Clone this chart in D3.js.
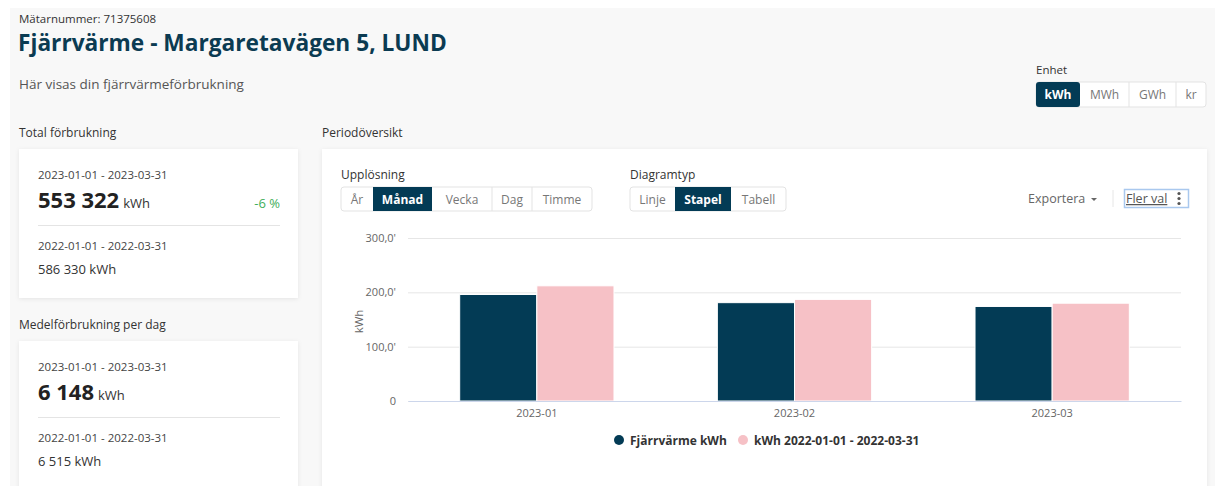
<!DOCTYPE html>
<html>
<head>
<meta charset="utf-8">
<script src="https://cdn.jsdelivr.net/npm/d3@7"></script>
<style>
  html, body { margin: 0; padding: 0; background: #fff; }
  svg { display: block; font-family: "Open Sans", "DejaVu Sans", sans-serif; }
</style>
</head>
<body>
<svg id="page" width="1215" height="486"></svg>
<script>
// chart data
const months = ['2023-01', '2023-02', '2023-03'];
const seriesNames = ['Fjärrvärme kWh', 'kWh 2022-01-01 - 2022-03-31'];
const current = [196000, 181000, 174000];
const previous = [212000, 187000, 180000];
const yTicks = [0, 100000, 200000, 300000];

// summary cards
const units = ['kWh', 'MWh', 'GWh', 'kr'];
const resolutions = ['År', 'Månad', 'Vecka', 'Dag', 'Timme'];
const chartTypes = ['Linje', 'Stapel', 'Tabell'];

const navy = '#033b55';
const pink = '#f6c1c6';

const svg = d3.select('#page');

const defs = svg.append('defs');
const shadow = defs.append('filter').attr('id', 'sh').attr('x', '-5%').attr('y', '-5%').attr('width', '110%').attr('height', '115%');
shadow.append('feDropShadow').attr('dx', 0).attr('dy', 1).attr('stdDeviation', 2).attr('flood-color', '#000').attr('flood-opacity', 0.08);

// background panel
svg.append('rect').attr('x', 10).attr('y', 8).attr('width', 1205).attr('height', 478).attr('fill', '#f8f8f8');

function text(x, y, s, opts = {}) {
    return svg.append('text')
        .attr('x', x).attr('y', y)
        .attr('font-size', opts.size || 12)
        .attr('font-weight', opts.weight || 400)
        .attr('fill', opts.color || '#333')
        .attr('text-anchor', opts.anchor || 'start')
        .text(s);
}

// header
text(19, 23, 'Mätarnummer: 71375608', { size: 11.5, color: '#333' });
text(18, 51, 'Fjärrvärme - Margaretavägen 5, LUND', { size: 22.7, weight: 700, color: '#0b3b52' });
text(19, 89, 'Här visas din fjärrvärmeförbrukning', { size: 13.5, color: '#555' });

// unit buttons
text(1036, 74, 'Enhet', { size: 11.5, color: '#333' });
function buttonGroup(x0, y0, h, labels, widths, active) {
    const g = svg.append('g').attr('transform', `translate(${x0},${y0})`);
    const xs = d3.cumsum([0, ...widths]);
    const total = xs[xs.length - 1];
    g.append('rect').attr('width', total).attr('height', h).attr('rx', 3)
        .attr('fill', '#fff').attr('stroke', '#e3e3e3');
    labels.forEach((l, i) => {
        if (i === active) {
            g.append('rect').attr('x', xs[i]).attr('width', widths[i]).attr('height', h)
                .attr('fill', navy).attr('rx', i === 0 ? 3 : 0);
        } else if (i > 0 && i - 1 !== active) {
            g.append('line').attr('x1', xs[i]).attr('x2', xs[i]).attr('y1', 0).attr('y2', h).attr('stroke', '#e3e3e3');
        }
        g.append('text').attr('x', xs[i] + widths[i] / 2).attr('y', h / 2 + 4.5)
            .attr('text-anchor', 'middle').attr('font-size', 12)
            .attr('font-weight', i === active ? 700 : 400)
            .attr('fill', i === active ? '#fff' : '#777').text(l);
    });
}
buttonGroup(1036, 82, 25, units, [44, 49, 47, 30], 0);

// left cards
text(19, 137, 'Total förbrukning', { size: 12 });
text(19, 329, 'Medelförbrukning per dag', { size: 12 });

function card(x, y, w, h) {
    svg.append('rect').attr('x', x).attr('y', y).attr('width', w).attr('height', h)
        .attr('fill', '#fff').attr('filter', 'url(#sh)');
}
card(19, 149, 279, 149);
card(19, 341, 279, 150);

function statCard(y, big, pct, prev) {
    text(38, y, '2023-01-01 - 2023-03-31', { size: 11.5, color: '#444' });
    const t = text(38, y + 29, big, { size: 22, weight: 700, color: '#222' });
    const bw = t.node().getComputedTextLength();
    text(38 + bw + 4, y + 29, 'kWh', { size: 13, color: '#333' });
    if (pct) text(280, y + 29, pct, { size: 13, color: '#3fae5a', anchor: 'end' });
    svg.append('line').attr('x1', 38).attr('x2', 280).attr('y1', y + 46.5).attr('y2', y + 46.5).attr('stroke', '#e4e4e4');
    text(38, y + 71, '2022-01-01 - 2022-03-31', { size: 11.5, color: '#444' });
    text(38, y + 95, prev, { size: 13, color: '#333' });
}
statCard(179, '553 322', '-6 %', '586 330 kWh');
statCard(371, '6 148', null, '6 515 kWh');

// chart card
text(322, 137, 'Periodöversikt', { size: 12 });
card(322, 149, 885, 340);

text(341, 179, 'Upplösning', { size: 12 });
buttonGroup(341, 187, 24, resolutions, [32, 59, 60, 40, 60], 1);
text(630, 179, 'Diagramtyp', { size: 12 });
buttonGroup(630, 187, 24, chartTypes, [45, 56, 55], 1);

text(1028, 203, 'Exportera', { size: 12.5, color: '#666' });
svg.append('path').attr('d', 'M1091,198 l6,0 l-3,3 z').attr('fill', '#666');
svg.append('line').attr('x1', 1113).attr('x2', 1113).attr('y1', 190).attr('y2', 207).attr('stroke', '#e6e6e6');
svg.append('rect').attr('x', 1124.5).attr('y', 189.5).attr('width', 64).attr('height', 18)
    .attr('fill', 'none').attr('stroke', '#a9c8ee').attr('stroke-width', 1.5);
text(1126, 203, 'Fler val', { size: 12.5, color: '#555' }).attr('text-decoration', 'underline');
[193.5, 198.5, 203.5].forEach(cy => svg.append('circle').attr('cx', 1179).attr('cy', cy).attr('r', 1.6).attr('fill', '#555'));

// bar chart
const plot = { left: 408, right: 1181, top: 238, bottom: 401 };

const x0 = d3.scaleBand().domain(months).range([plot.left, plot.right]).padding(0);
const x1 = d3.scaleBand().domain(seriesNames).range([0, x0.bandwidth()]).paddingInner(0).paddingOuter(0.67);
const y = d3.scaleLinear().domain([0, 300000]).range([plot.bottom, plot.top]);
const color = d3.scaleOrdinal().domain(seriesNames).range([navy, pink]);

const fmt = d => d === 0 ? '0' : d3.format('.1f')(d / 1000).replace('.', ',') + "'";

const yAxis = svg.append('g')
    .attr('transform', `translate(${plot.left},0)`)
    .call(d3.axisLeft(y).tickValues(yTicks).tickSize(-(plot.right - plot.left)).tickFormat(fmt));
yAxis.select('.domain').remove();
yAxis.selectAll('.tick line').attr('stroke', '#e6e6e6');
yAxis.selectAll('.tick text').attr('x', -12).attr('fill', '#666').attr('font-size', 11)
    .attr('font-family', '"Open Sans", sans-serif');

svg.append('text')
    .attr('transform', `translate(363,${(plot.top + plot.bottom) / 2 + 2}) rotate(-90)`)
    .attr('text-anchor', 'middle').attr('font-size', 11.5).attr('fill', '#666').text('kWh');

const rows = months.map((m, i) => ({ month: m, values: [current[i], previous[i]] }));

svg.append('g').selectAll('g')
    .data(rows)
    .join('g')
    .attr('transform', d => `translate(${x0(d.month)},0)`)
    .selectAll('rect')
    .data(d => d.values.map((v, j) => ({ key: seriesNames[j], v })))
    .join('rect')
    .attr('x', d => x1(d.key))
    .attr('width', x1.bandwidth())
    .attr('y', d => y(d.v))
    .attr('height', d => plot.bottom - y(d.v))
    .attr('fill', d => color(d.key))
    .attr('stroke', '#fff').attr('stroke-width', 1);

const xAxis = svg.append('g')
    .attr('transform', `translate(0,${plot.bottom})`)
    .call(d3.axisBottom(x0).tickSize(0).tickPadding(8));
xAxis.select('.domain').attr('stroke', '#ccd6eb');
xAxis.selectAll('.tick text').attr('fill', '#666').attr('font-size', 11)
    .attr('font-family', '"Open Sans", sans-serif');

// legend
const legend = svg.append('g').attr('transform', 'translate(619,440)');
const legX = [0, 124];
seriesNames.forEach((s, i) => {
    legend.append('circle').attr('cx', legX[i]).attr('cy', 0).attr('r', 5).attr('fill', color(s));
    legend.append('text').attr('x', legX[i] + 11).attr('y', 4.5)
        .attr('font-size', 12).attr('font-weight', 700).attr('fill', '#333').text(s);
});
</script>
</body>
</html>
